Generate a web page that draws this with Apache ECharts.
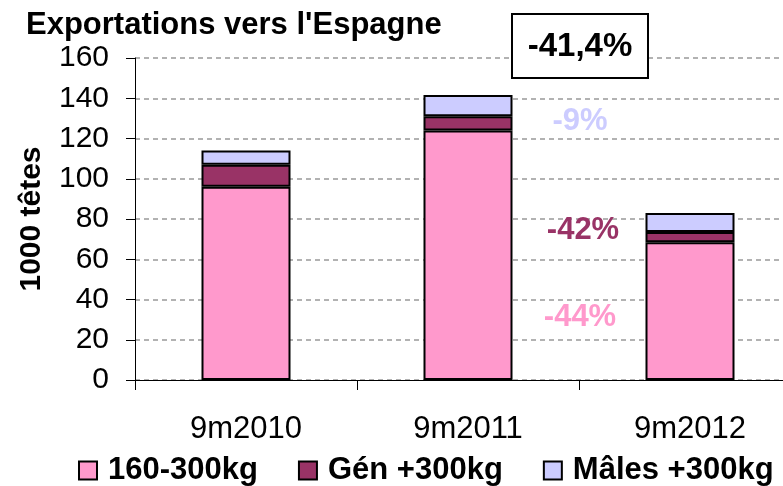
<!DOCTYPE html>
<html>
<head>
<meta charset="utf-8">
<script src="https://cdn.jsdelivr.net/npm/echarts@6/dist/echarts.min.js"></script>
<style>html,body{margin:0;padding:0;background:#fff;overflow:hidden;width:783px;height:486px}#c{width:801px;height:486px}</style>
</head>
<body>
<div id="c"></div>
<script>
var categories = ['9m2010', '9m2011', '9m2012'];
var seriesNames = ['160-300kg', 'Gén +300kg', 'Mâles +300kg'];
var values160 = [96, 124, 68.5];
var valuesGen = [11, 7, 5];
var valuesMales = [7, 10.6, 9.5];
var yTicks = [0, 20, 40, 60, 80, 100, 120, 140, 160];
var colors = ['#FF99CC', '#993366', '#CCCCFF'];
var FONT = "'Liberation Sans', Arial, sans-serif";

var chart = echarts.init(document.getElementById('c'));
function mk(name, data, color) {
  return {
    name: name, type: 'bar', stack: 'a', data: data, barWidth: 89,
    itemStyle: { color: color, borderColor: '#000', borderWidth: 2 }
  };
}
chart.setOption({
  animation: false,
  backgroundColor: '#fff',
  grid: { left: 135, top: 58, right: 0, bottom: 106, containLabel: false },
  legend: {
    data: seriesNames, left: 73, top: 450, itemWidth: 18, itemHeight: 18, itemGap: 40,
    icon: 'rect',
    itemStyle: { borderColor: '#000', borderWidth: 2 },
    textStyle: { fontFamily: FONT, fontSize: 31, fontWeight: 'bold', color: '#000', padding: [0, 0, 0, 6] }
  },
  xAxis: {
    type: 'category', data: categories,
    axisLine: { lineStyle: { color: '#000', width: 1 } },
    axisTick: { show: true, length: 10, lineStyle: { color: '#000' } },
    axisLabel: { fontFamily: FONT, fontSize: 31, color: '#000', margin: 34 }
  },
  yAxis: {
    type: 'value', min: yTicks[0], max: yTicks[yTicks.length - 1], interval: 20,
    name: '1000 têtes', nameLocation: 'middle', nameGap: 88, nameRotate: 90,
    nameTextStyle: { fontFamily: FONT, fontSize: 30, fontWeight: 'bold', color: '#000' },
    axisLine: { show: true, lineStyle: { color: '#000', width: 1 } },
    axisTick: { show: true, length: 9, lineStyle: { color: '#000' } },
    axisLabel: { fontFamily: FONT, fontSize: 30, color: '#000', margin: 26 },
    splitLine: { show: true, lineStyle: { color: '#999', width: 1.5, type: [5, 4] } }
  },
  series: [
    mk(seriesNames[0], values160, colors[0]),
    mk(seriesNames[1], valuesGen, colors[1]),
    mk(seriesNames[2], valuesMales, colors[2])
  ],
  graphic: [
    { type: 'text', left: 26, top: 10, style: { text: "Exportations vers l'Espagne", font: "bold 31px " + FONT, fill: '#000' } },
    { type: 'rect', shape: { x: 512, y: 14, width: 136, height: 64 }, style: { fill: '#fff', stroke: '#000', lineWidth: 2 }, z: 100 },
    { type: 'text', x: 580, y: 47, style: { text: '-41,4%', font: "bold 33px " + FONT, fill: '#000', align: 'center', verticalAlign: 'middle' }, z: 101 },
    { type: 'text', x: 580, y: 121, style: { text: '-9%', font: "bold 31px " + FONT, fill: colors[2], align: 'center', verticalAlign: 'middle' }, z: 101 },
    { type: 'text', x: 583, y: 230, style: { text: '-42%', font: "bold 31px " + FONT, fill: colors[1], align: 'center', verticalAlign: 'middle' }, z: 101 },
    { type: 'text', x: 580, y: 317, style: { text: '-44%', font: "bold 31px " + FONT, fill: colors[0], align: 'center', verticalAlign: 'middle' }, z: 101 }
  ]
});
</script>
</body>
</html>
